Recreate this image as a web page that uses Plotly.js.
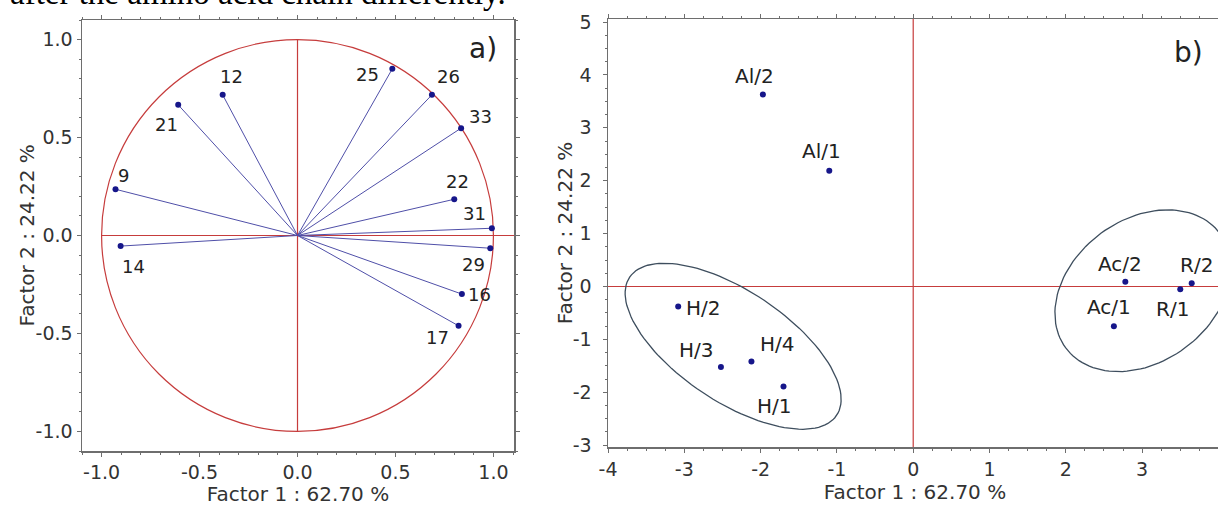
<!DOCTYPE html>
<html><head><meta charset="utf-8">
<script src="https://cdn.plot.ly/plotly-3.0.1.min.js"></script>
<style>html,body{margin:0;padding:0;overflow:hidden;background:#fff}#chart{width:1222px;height:506px}</style>
</head><body><div id="chart"></div>
<script>
// ---- Panel a: variable loadings ----
const loadLabels = ['12','21','9','14','25','26','33','22','31','29','16','17'];
const loadF1 = [-0.382,-0.609,-0.929,-0.903,0.484,0.686,0.835,0.800,0.992,0.984,0.839,0.822];
const loadF2 = [0.718,0.667,0.236,-0.054,0.851,0.718,0.548,0.185,0.037,-0.065,-0.299,-0.461];
// ---- Panel b: case scores ----
const scoreLabels = ['Al/2','Al/1','H/2','H/3','H/4','H/1','Ac/2','Ac/1','R/1','R/2'];
const scoreF1 = [-1.97,-1.10,-3.08,-2.52,-2.12,-1.70,2.78,2.63,3.50,3.65];
const scoreF2 = [3.63,2.19,-0.38,-1.52,-1.42,-1.89,0.09,-0.75,-0.05,0.06];
// group ellipses: centre x, centre y, semi-major, semi-minor, angle (deg)
const ellipseH = [-2.36,-1.13,1.916,0.892,-49.6];
const ellipseAcR = [3.01,-0.08,1.594,1.062,67.8];
// ---- ticks ----
const tickValsA = [-1,-0.5,0,0.5,1];
const tickTextA = ['-1.0','-0.5','0.0','0.5','1.0'];
const tickValsBX = [-4,-3,-2,-1,0,1,2,3,4];
const tickTextBX = ['-4','-3','-2','-1','0','1','2','3','4'];
const tickValsBY = [-3,-2,-1,0,1,2,3,4,5];
const tickTextBY = ['-3','-2','-1','0','1','2','3','4','5'];
const xTitle = 'Factor 1 : 62.70 %';
const yTitle = 'Factor 2 : 24.22 %';
const topText = 'after the amino acid chain differently.';

// ---- styles (label pixel offsets, dx right / dy down) ----
const labelShiftA = [[9,-18],[-12,20],[8,-14],[13,20],[-25,6],[17,-18],[19,-12],[3,-18],[-17,-15],[-17,16],[18,0],[-21,12]];
const labelShiftB = [[-8,-18],[-8,-20],[25,1],[-24,-17],[26,-18],[-9,20],[-5,-18],[-5,-19],[-8,20],[5,-18]];
const RED = '#c63c3c', LINEBLUE = '#4f4fa8', DOT = '#16168a', ELL = '#3e4e5e', FRAME = '#6e6e6e', TXT = '#333';
const FONT = 'DejaVu Sans';

function ellipsePts(e){
  const [cx,cy,a,b,deg] = e, th = deg*Math.PI/180, xs=[], ys=[];
  for(let k=0;k<=120;k++){
    const t = 2*Math.PI*k/120;
    xs.push(cx + a*Math.cos(t)*Math.cos(th) - b*Math.sin(t)*Math.sin(th));
    ys.push(cy + a*Math.cos(t)*Math.sin(th) + b*Math.sin(t)*Math.cos(th));
  }
  return [xs,ys];
}

const rayX=[], rayY=[];
loadF1.forEach((v,i)=>{ rayX.push(0,v,null); rayY.push(0,loadF2[i],null); });
const eH = ellipsePts(ellipseH), eA = ellipsePts(ellipseAcR);

const traces = [
  {x:rayX, y:rayY, mode:'lines', line:{color:LINEBLUE,width:1}, xaxis:'x', yaxis:'y', hoverinfo:'skip'},
  {x:loadF1, y:loadF2, mode:'markers', marker:{color:DOT,size:6}, xaxis:'x', yaxis:'y'},
  {x:eH[0], y:eH[1], mode:'lines', line:{color:ELL,width:1.3}, xaxis:'x2', yaxis:'y2'},
  {x:eA[0], y:eA[1], mode:'lines', line:{color:ELL,width:1.3}, xaxis:'x2', yaxis:'y2'},
  {x:scoreF1, y:scoreF2, mode:'markers', marker:{color:DOT,size:6}, xaxis:'x2', yaxis:'y2'}
];

const W = 1222, H = 506;
function axis(extra){
  return Object.assign({showline:true, linecolor:FRAME, linewidth:1.5, mirror:'ticks',
    ticks:'outside', ticklen:4, tickwidth:1, tickcolor:FRAME, showgrid:false, zeroline:false,
    tickmode:'array', tickfont:{family:FONT,size:19,color:TXT}, fixedrange:true}, extra);
}
const layout = {
  width:W, height:H, margin:{l:0,r:0,t:0,b:0}, showlegend:false,
  paper_bgcolor:'#fff', plot_bgcolor:'#fff',
  xaxis: axis({domain:[82/W,514/W], range:[-1.1,1.105], tickvals:tickValsA, ticktext:tickTextA,
    minor:{ticks:'outside',ticklen:2,tickcolor:FRAME,dtick:0.1,tick0:0},
    title:{text:xTitle, font:{family:FONT,size:20,color:TXT}, standoff:5}, anchor:'y'}),
  yaxis: axis({domain:[55/H,486/H], range:[-1.1,1.1], tickvals:tickValsA, ticktext:tickTextA,
    minor:{ticks:'outside',ticklen:2,tickcolor:FRAME,dtick:0.1,tick0:0}, anchor:'x'}),
  xaxis2: axis({domain:[608/W,1], range:[-4,4.047], tickvals:tickValsBX, ticktext:tickTextBX,
    minor:{ticks:'outside',ticklen:2,tickcolor:FRAME,dtick:0.25,tick0:0},
    title:{text:xTitle, font:{family:FONT,size:20,color:TXT}, standoff:5}, anchor:'y2'}),
  yaxis2: axis({domain:[58.7/H,487/H], range:[-3.04,5.057], tickvals:tickValsBY, ticktext:tickTextBY,
    minor:{ticks:'outside',ticklen:2,tickcolor:FRAME,dtick:0.25,tick0:0}, ticklabelstandoff:7, anchor:'x2'}),
  shapes:[
    {type:'circle', xref:'x', yref:'y', x0:-1, x1:1, y0:-1, y1:1, line:{color:RED,width:1.2}, layer:'below'},
    {type:'line', xref:'x', yref:'y', x0:0, x1:0, y0:-1, y1:1, line:{color:RED,width:1.2}, layer:'below'},
    {type:'line', xref:'x', yref:'y', x0:-1, x1:1.105, y0:0, y1:0, line:{color:RED,width:1.2}, layer:'below'},
    {type:'line', xref:'x2', yref:'y2 domain', x0:0, x1:0, y0:0, y1:1, line:{color:RED,width:1.2}, layer:'below'},
    {type:'line', xref:'x2 domain', yref:'y2', x0:0, x1:1, y0:0, y1:0, line:{color:RED,width:1.2}, layer:'below'}
  ],
  annotations:[]
};
loadLabels.forEach((t,i)=>layout.annotations.push({text:t, x:loadF1[i], y:loadF2[i], xref:'x', yref:'y',
  xanchor:'center', yanchor:'middle', showarrow:false, xshift:labelShiftA[i][0], yshift:-labelShiftA[i][1],
  font:{family:FONT,size:18,color:'#222'}}));
scoreLabels.forEach((t,i)=>layout.annotations.push({text:t, x:scoreF1[i], y:scoreF2[i], xref:'x2', yref:'y2',
  xanchor:'center', yanchor:'middle', showarrow:false, xshift:labelShiftB[i][0], yshift:-labelShiftB[i][1],
  font:{family:FONT,size:20,color:'#222'}}));
layout.annotations.push({text:'a)', xref:'x domain', yref:'y domain', x:0.928, y:0.935, xanchor:'center', yanchor:'middle',
  showarrow:false, font:{family:FONT,size:28,color:'#222'}});
layout.annotations.push({text:'b)', xref:'x2 domain', yref:'y2 domain', x:0.945, y:0.921, xanchor:'center', yanchor:'middle',
  showarrow:false, font:{family:FONT,size:28,color:'#222'}});
// vertical axis titles
layout.annotations.push({text:yTitle, xref:'paper', yref:'y domain', x:26/W, y:0.5, xanchor:'center', yanchor:'middle',
  textangle:-90, showarrow:false, font:{family:FONT,size:20,color:TXT}});
layout.annotations.push({text:yTitle, xref:'paper', yref:'y2 domain', x:565/W, y:0.5, xanchor:'center', yanchor:'middle',
  textangle:-90, showarrow:false, font:{family:FONT,size:20,color:TXT}});
layout.annotations.push({text:topText, xref:'paper', yref:'paper', x:8/W, xanchor:'left', y:1+7/H, yanchor:'middle',
  showarrow:false, font:{family:'Liberation Serif',size:33,color:'#000'}});

Plotly.newPlot('chart', traces, layout, {staticPlot:true, displayModeBar:false});
</script></body></html>
